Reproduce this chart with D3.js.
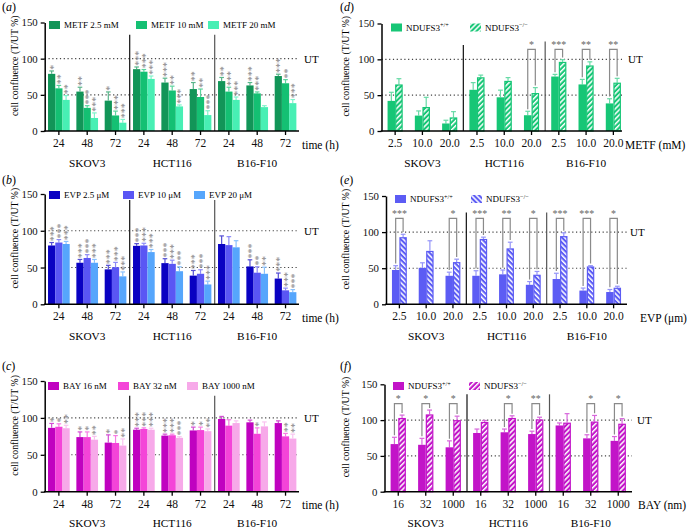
<!DOCTYPE html>
<html>
<head>
<meta charset="utf-8">
<script src="https://cdn.jsdelivr.net/npm/d3@7"></script>
<style>
  body { margin: 0; background: #fff; }
  svg { display: block; }
  svg text { font-family: "Liberation Serif", "DejaVu Serif", serif !important; }
</style>
</head>
<body>
<script>
// ---- data ----
const cellLines = ["SKOV3", "HCT116", "B16-F10"];
const timeTicks = ["24", "48", "72"];
const metfTicks = ["2.5", "10.0", "20.0"];
const evpTicks = ["2.5", "10.0", "20.0"];
const bayTicks = ["16", "32", "1000"];

// (a) METF, 9 groups = 3 cell lines x 24/48/72 h
const metf25 = [79, 54.5, 42, 85.5, 67, 58, 69, 63, 76];
const metf10 = [59, 32, 21.5, 82, 56, 47, 54.5, 52, 66];
const metf20 = [43, 18, 11.5, 72, 34, 22, 43, 33, 38.5];
const metf25Sd = [4, 6, 12, 3, 6, 9, 5, 4, 2.5];
const metf10Sd = [4, 3, 6, 3, 6, 11, 6, 2, 5];
const metf20Sd = [6, 7, 4.5, 4, 2, 6, 4, 2, 5];
const metf25Stars = [1, 2, 1, 3, 3, 2, 2, 3, 3];
const metf10Stars = [2, 3, 3, 3, 2, 2, 3, 3, 2];
const metf20Stars = [2, 3, 3, 3, 3, 3, 3, 0, 3];

// (b) EVP
const evp25 = [80, 56.5, 47.5, 79.5, 56, 39, 82, 51.5, 35];
const evp10 = [84, 63, 50.5, 80, 55, 41.5, 80.5, 43, 19];
const evp20 = [82, 56.5, 38, 71, 45, 27, 77.5, 41.5, 16.5];
const evp25Sd = [4, 4.5, 5.5, 3, 6, 7, 11, 9, 7.5];
const evp10Sd = [4, 4.5, 6.5, 3, 5, 5.5, 11.5, 8, 3];
const evp20Sd = [3.5, 4.5, 6, 3.5, 6, 4.5, 9, 9, 3.5];
const evp25Stars = [3, 3, 3, 3, 3, 3, 0, 3, 3];
const evp10Stars = [3, 3, 3, 3, 3, 3, 0, 2, 3];
const evp20Stars = [3, 3, 3, 3, 3, 3, 0, 2, 3];

// (c) BAY
const bay16 = [86.5, 74, 66.5, 84, 76, 83, 98.5, 94, 93];
const bay32 = [88, 74, 66, 85, 76.5, 83.5, 89.5, 78.5, 75];
const bay1000 = [86, 70.5, 62.5, 84, 73, 82, 93, 88.5, 72];
const bay16Sd = [6, 7, 10.5, 2, 2, 4.5, 3.5, 3, 3];
const bay32Sd = [4, 7, 10, 1.5, 1.5, 4, 8, 8, 4];
const bay1000Sd = [4, 4.5, 9, 2, 1.5, 3, 3, 6, 6];
const bay16Stars = [1, 1, 1, 3, 3, 1, 0, 0, 0];
const bay32Stars = [1, 1, 1, 3, 3, 1, 0, 1, 2];
const bay1000Stars = [2, 2, 2, 3, 3, 2, 0, 0, 2];

// (d) METF, NDUFS3 +/+ vs -/-
const metfWt = [42, 21.5, 10.5, 57.5, 47, 22, 76, 65, 38.5];
const metfWtSd = [12, 6.5, 4.5, 10, 10, 5.5, 3, 7, 6.5];
const metfKo = [65, 33.5, 19, 75, 70, 53, 96.5, 91.5, 67.5];
const metfKoSd = [8, 13.5, 8, 3, 4.5, 7.5, 3, 5, 6];
const metfSig = ["", "", "", "", "", "*", "***", "**", "**"];

// (e) EVP
const evpWt = [47.5, 50.5, 39.5, 39.5, 41.5, 27, 35, 19, 17];
const evpWtSd = [6, 7, 5, 7, 6, 4.5, 8, 3.5, 3.5];
const evpKo = [93, 74, 58.5, 90.5, 77.5, 41, 94.5, 52.5, 23];
const evpKoSd = [4, 14, 4, 2.5, 8.5, 4.5, 4.5, 1, 2];
const evpSig = ["***", "", "*", "***", "**", "*", "***", "***", "*"];

// (f) BAY
const bayWt = [66.5, 65.5, 62, 82, 83, 80.5, 92.5, 74.5, 71];
const bayWtSd = [9.5, 9, 9, 5.5, 4.5, 4, 3.5, 5, 6];
const bayKo = [103, 108, 100, 97.5, 103, 101, 96.5, 98, 95];
const bayKoSd = [4, 6, 5.5, 2, 3, 3, 12.5, 8.5, 7];
const baySig = ["*", "*", "*", "", "*", "**", "", "*", "*"];

const yTicks = [0, 50, 100, 150];

// ---- drawing ----
const font = "Liberation Serif, DejaVu Serif, serif";
const W = 690, H = 530;
const svg = d3.select("body").append("svg")
  .attr("width", W).attr("height", H)
  .attr("font-family", font);
const defs = svg.append("defs");

function hatch(id, color, angle) {
  const p = defs.append("pattern")
    .attr("id", id)
    .attr("patternUnits", "userSpaceOnUse")
    .attr("width", 3.6).attr("height", 10)
    .attr("patternTransform", `rotate(${angle})`);
  p.append("rect").attr("width", 3.6).attr("height", 10).attr("fill", color);
  p.append("rect").attr("x", 0).attr("width", 1.5).attr("height", 10).attr("fill", "#fff");
  return `url(#${id})`;
}

const lighten = (c, t) => d3.interpolateRgb(c, "#fff")(t);

function panel(p) {
  const g = svg.append("g");
  const groupTicks = cellLines.flatMap(() => p.ticks);
  const y = d3.scaleLinear().domain([0, 150]).range([p.y0, p.y150]);
  const x = d3.scaleBand().domain(d3.range(groupTicks.length)).range([p.x0, p.x1]);
  const xi = d3.scaleBand().domain(d3.range(p.series.length))
    .range([0, x.bandwidth()]).paddingOuter(p.pad);

  // title
  const t = g.append("text").attr("x", p.titleX).attr("y", p.titleY)
    .attr("font-size", 12);
  t.append("tspan").text("(");
  t.append("tspan").attr("font-style", "italic").text(p.title);
  t.append("tspan").text(")");

  // reference lines 50 / 100
  [50, 100].forEach(v => {
    g.append("line")
      .attr("x1", p.x0).attr("x2", p.axisEnd)
      .attr("y1", y(v)).attr("y2", y(v))
      .attr("stroke", "#444").attr("stroke-width", 1.1)
      .attr("stroke-dasharray", "1.2,2.6");
  });
  g.append("text").attr("x", p.utX).attr("y", y(100) + 4)
    .attr("font-size", 11).text("UT");

  // separators between cell lines
  [3, 6].forEach((k, i) => {
    const sx = x(k);
    g.append("line").attr("x1", sx).attr("x2", sx)
      .attr("y1", y(0)).attr("y2", y(p.sepTop[i]))
      .attr("stroke", i === 0 ? "#111" : "#555").attr("stroke-width", 1.2);
  });

  // bars
  p.series.forEach((s, si) => {
    const bw = xi.bandwidth();
    s.mean.forEach((m, gi) => {
      const bx = x(gi) + xi(si);
      const cx = bx + bw / 2;
      const top = y(m + s.sd[gi]);
      const ec = s.err || lighten(s.color, 0.3);
      // error bar
      g.append("line").attr("x1", cx).attr("x2", cx)
        .attr("y1", y(m)).attr("y2", top)
        .attr("stroke", ec).attr("stroke-width", 1.2);
      g.append("line").attr("x1", cx - bw * 0.32).attr("x2", cx + bw * 0.32)
        .attr("y1", top).attr("y2", top)
        .attr("stroke", ec).attr("stroke-width", 1.2);
      if (s.hatch) {
        g.append("rect")
          .attr("x", bx + 0.6).attr("y", y(m) + 0.6)
          .attr("width", bw - 1.2).attr("height", y(0) - y(m) - 0.6)
          .attr("fill", s.fill).attr("stroke", s.color).attr("stroke-width", 1.2);
      } else {
        g.append("rect")
          .attr("x", bx).attr("y", y(m))
          .attr("width", bw).attr("height", y(0) - y(m))
          .attr("fill", s.color);
      }
      // stacked gray asterisks (vs untreated), drawn as one rotated string
      if (s.stars && s.stars[gi] > 0) {
        const fs = 10;
        g.append("text")
          .attr("transform", `translate(${cx + fs * 0.5},${top - 1.2}) rotate(-90)`)
          .attr("font-size", fs).attr("fill", "#888")
          .text("*".repeat(s.stars[gi]));
      }
    });
  });

  // significance brackets (+/+ vs -/-)
  if (p.sig) {
    const [a, b] = p.series;
    p.sig.forEach((label, gi) => {
      if (!label) return;
      const bw = xi.bandwidth();
      const xa = x(gi) + xi(0) + bw / 2;
      const xb = x(gi) + xi(1) + bw / 2;
      const yt = y(p.bracketTop);
      const ya = y(a.mean[gi] + a.sd[gi] + 3);
      const yb = y(b.mean[gi] + b.sd[gi] + 3);
      g.append("path")
        .attr("d", `M${xa},${ya}V${yt}H${xb}V${yb}`)
        .attr("fill", "none").attr("stroke", "#8a8a8a").attr("stroke-width", 1.2);
      g.append("text").attr("x", (xa + xb) / 2).attr("y", yt - 1.5)
        .attr("text-anchor", "middle").attr("font-size", 10)
        .attr("fill", "#666").text(label);
    });
  }

  // y axis
  g.append("g").attr("transform", `translate(${p.x0},0)`)
    .call(d3.axisLeft(y).tickValues(yTicks).tickSize(4).tickSizeOuter(0).tickPadding(3))
    .call(a => a.attr("font-family", null))
    .call(a => a.select(".domain").attr("stroke-width", 1.5))
    .call(a => a.selectAll(".tick line").attr("stroke-width", 1.3))
    .call(a => a.selectAll("text").attr("font-size", 10.8).attr("fill", "#111"));

  // x axis
  const xa = g.append("g").attr("transform", `translate(0,${p.y0})`)
    .call(d3.axisBottom(x).tickSize(4).tickSizeOuter(0).tickPadding(4)
      .tickFormat(i => groupTicks[i]));
  xa.attr("font-family", null);
  xa.select(".domain").remove();
  xa.selectAll(".tick line").attr("stroke-width", 1.3);
  xa.selectAll("text").attr("font-size", 11.5).attr("fill", "#111");
  xa.append("line").attr("x1", p.x0 - 0.75).attr("x2", p.axisEnd)
    .attr("stroke", "#000").attr("stroke-width", 1.5);

  g.append("text").attr("x", p.xTitleX).attr("y", p.y0 + 17.5)
    .attr("font-size", 11.5).text(p.xTitle);

  cellLines.forEach((c, i) => {
    g.append("text")
      .attr("x", x(i * 3 + 1) + x.bandwidth() / 2).attr("y", p.y0 + 35.5)
      .attr("text-anchor", "middle").attr("font-size", 11.3).text(c);
  });

  // y label
  const ly = y(75) - 11;
  g.append("text")
    .attr("transform", `translate(${p.yLabelX},${ly}) rotate(-90)`)
    .attr("text-anchor", "middle").attr("font-size", 9.8)
    .text("cell confluence (T/UT %)");

  // legend
  p.series.forEach((s, si) => {
    const lx = p.legendX[si];
    const ly0 = p.legendY;
    g.append("rect").attr("x", lx).attr("y", ly0 - 4)
      .attr("width", 11).attr("height", 8)
      .attr("fill", s.hatch ? s.fill : s.color);
    const tx = g.append("text").attr("x", lx + 15).attr("y", ly0 + 3.2)
      .attr("font-size", 9);
    tx.append("tspan").text(s.name);
    if (s.sup) tx.append("tspan").attr("font-size", 6.2).attr("dy", -3.6).text(s.sup);
  });
}

const left = { x0: 44.7, x1: 299.7, axisEnd: 299, pad: 0.46, titleX: 2, yLabelX: 18, utX: 304, xTitleX: 302 };
const rightBase = { pad: 0.8, titleX: 340, yLabelX: 349 };

panel(Object.assign({}, left, {
  title: "a", titleY: 10.5, y0: 131, y150: 22.5, ticks: timeTicks, sepTop: [133, 133],
  xTitle: "time (h)", legendX: [49, 136, 208], legendY: 25,
  series: [
    { name: "METF 2.5 mM", color: "#129558", mean: metf25, sd: metf25Sd, stars: metf25Stars },
    { name: "METF 10 mM", color: "#14c073", mean: metf10, sd: metf10Sd, stars: metf10Stars },
    { name: "METF 20 mM", color: "#48efb4", mean: metf20, sd: metf20Sd, stars: metf20Stars }
  ]
}));

panel(Object.assign({}, left, {
  title: "b", titleY: 184, y0: 304.3, y150: 194, ticks: timeTicks, sepTop: [142, 142],
  xTitle: "time (h)", legendX: [49, 123, 194], legendY: 195,
  series: [
    { name: "EVP 2.5 μM", color: "#0a02c2", mean: evp25, sd: evp25Sd, stars: evp25Stars },
    { name: "EVP 10 μM", color: "#5a56f4", mean: evp10, sd: evp10Sd, stars: evp10Stars },
    { name: "EVP 20 μM", color: "#56a6fc", mean: evp20, sd: evp20Sd, stars: evp20Stars }
  ]
}));

panel(Object.assign({}, left, {
  title: "c", titleY: 369.5, y0: 491.7, y150: 381, ticks: timeTicks, sepTop: [130, 130],
  xTitle: "time (h)", legendX: [48, 118, 187], legendY: 386,
  series: [
    { name: "BAY 16 nM", color: "#c002c0", mean: bay16, sd: bay16Sd, stars: bay16Stars },
    { name: "BAY 32 nM", color: "#f444d8", mean: bay32, sd: bay32Sd, stars: bay32Stars },
    { name: "BAY 1000 nM", color: "#f7a9e9", mean: bay1000, sd: bay1000Sd, stars: bay1000Stars }
  ]
}));

const dCol = "#17c676", eCol = "#5c5cf4", fCol = "#c214c8";

panel(Object.assign({}, rightBase, {
  title: "d", titleY: 10.5, x0: 381.5, x1: 627, axisEnd: 622, y0: 131, y150: 23.5,
  ticks: metfTicks, sepTop: [120, 125], utX: 628, xTitle: "METF (mM)", xTitleX: 625,
  legendX: [391, 470], legendY: 27.5, sig: metfSig, bracketTop: 114,
  series: [
    { name: "NDUFS3", sup: "+/+", color: dCol, mean: metfWt, sd: metfWtSd, err: lighten(dCol, 0.35) },
    { name: "NDUFS3", sup: "−/−", color: dCol, hatch: true, fill: hatch("hd", dCol, 45),
      mean: metfKo, sd: metfKoSd, err: lighten(dCol, 0.35) }
  ]
}));

panel(Object.assign({}, rightBase, {
  title: "e", titleY: 184, x0: 386, x1: 627, axisEnd: 627, y0: 304.3, y150: 196,
  ticks: evpTicks, sepTop: [127, 127], utX: 630, xTitle: "EVP (μm)", xTitleX: 640,
  legendX: [395, 471], legendY: 199, sig: evpSig, bracketTop: 119,
  series: [
    { name: "NDUFS3", sup: "+/+", color: eCol, mean: evpWt, sd: evpWtSd, err: lighten(eCol, 0.35) },
    { name: "NDUFS3", sup: "−/−", color: eCol, hatch: true, fill: hatch("he", eCol, -45),
      mean: evpKo, sd: evpKoSd, err: lighten(eCol, 0.35) }
  ]
}));

panel(Object.assign({}, rightBase, {
  title: "f", titleY: 369.5, x0: 384.5, x1: 632, axisEnd: 632, y0: 491.7, y150: 384.3,
  ticks: bayTicks, sepTop: [136, 136], utX: 637, xTitle: "BAY (nm)", xTitleX: 638,
  legendX: [393, 469], legendY: 386, sig: baySig, bracketTop: 123,
  series: [
    { name: "NDUFS3", sup: "+/+", color: fCol, mean: bayWt, sd: bayWtSd, err: lighten(fCol, 0.35) },
    { name: "NDUFS3", sup: "−/−", color: fCol, hatch: true, fill: hatch("hf", fCol, 45),
      mean: bayKo, sd: bayKoSd, err: lighten(fCol, 0.35) }
  ]
}));
</script>
</body>
</html>
